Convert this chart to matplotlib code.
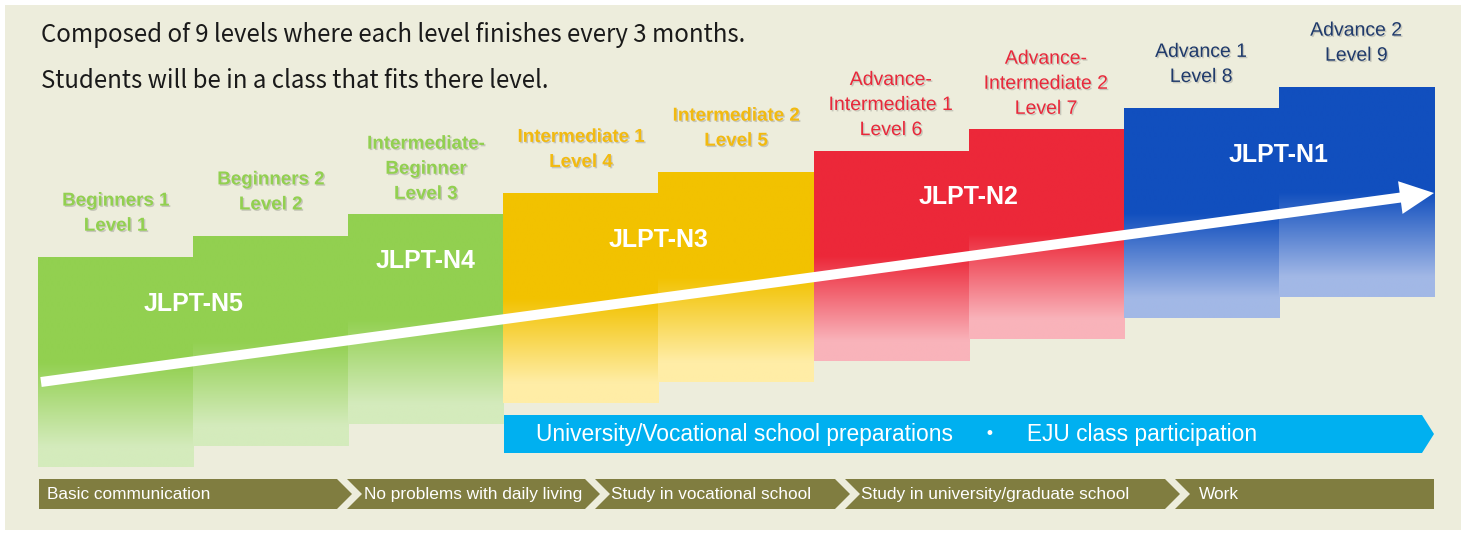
import numpy as np
import matplotlib
matplotlib.use("Agg")
import matplotlib.pyplot as plt
import matplotlib.patheffects as pe
from matplotlib.colors import to_rgba
from matplotlib.patches import Rectangle, Polygon, FancyArrow


# Data
levels = [1, 2, 3, 4, 5, 6, 7, 8, 9]
level_names = ["Beginners 1\nLevel 1", "Beginners 2\nLevel 2", "Intermediate-\nBeginner\nLevel 3",
               "Intermediate 1\nLevel 4", "Intermediate 2\nLevel 5",
               "Advance-\nIntermediate 1\nLevel 6", "Advance-\nIntermediate 2\nLevel 7",
               "Advance 1\nLevel 8", "Advance 2\nLevel 9"]
level_group = [0, 0, 1, 2, 2, 3, 3, 4, 4]
jlpt_names = ["JLPT-N5", "JLPT-N4", "JLPT-N3", "JLPT-N2", "JLPT-N1"]
goals = ["Basic communication", "No problems with daily living", "Study in vocational school",
         "Study in university/graduate school", "Work"]
prep_text = "University/Vocational school preparations    \u30fb    EJU class participation"
heading = ["Composed of 9 levels where each level finishes every 3 months.",
           "Students will be in a class that fits there level."]

# Colours per JLPT group
solid_colors = ["#92D050", "#92D050", "#F2C200", "#EC2839", "#114FBE"]
light_colors = ["#D4EBBC", "#D4EBBC", "#FFEDA6", "#F9B3BA", "#A2B8E6"]
label_colors = ["#92D050", "#92D050", "#F2BA10", "#E8283A", "#1F3A6B"]
label_bold = [True, True, True, False, False]

# Bar geometry (in level units)
bar_len = 9.88
solid_len = 4.95
fade_len = 8.95

W, H = 1466, 533
fig = plt.figure(figsize=(W / 100, H / 100), dpi=100, facecolor="white")

# Background axes (pixel coordinates)
ax_bg = fig.add_axes([0, 0, 1, 1], zorder=0)
ax_bg.set_xlim(0, W)
ax_bg.set_ylim(H, 0)
ax_bg.axis("off")
ax_bg.add_patch(Rectangle((5, 5), 1456, 525, facecolor="#EDEDDC", edgecolor="none"))

# Bar axes (column index / level units)
ax = fig.add_axes([0, 0, 1, 1], zorder=1)
ax.patch.set_visible(False)
ax.axis("off")

shadow = [pe.SimplePatchShadow(offset=(1, -1), alpha=0.25, shadow_rgbFace="#555555"), pe.Normal()]

for i, lvl in enumerate(levels):
    g = level_group[i]
    top = lvl
    bottom = lvl - bar_len
    # vertical gradient: solid -> light
    depth = np.linspace(0, bar_len, 200)
    t = np.clip((depth - solid_len) / (fade_len - solid_len), 0, 1)
    c1 = np.array(to_rgba(solid_colors[g]))
    c2 = np.array(to_rgba(light_colors[g]))
    grad = (1 - t)[:, None] * c1 + t[:, None] * c2
    ax.imshow(grad[:, None, :], extent=(i, i + 1.003, bottom, top), origin="upper",
              aspect="auto", interpolation="bilinear", zorder=1)

    # level label above the bar
    n_lines = level_names[i].count("\n") + 1
    off = 0.55 if n_lines == 3 else 1.05
    ax.text(i + 0.5, top + off, level_names[i], ha="center", va="bottom",
            color=label_colors[g], fontsize=13.5 if label_bold[g] else 14,
            fontweight="bold" if label_bold[g] else "normal",
            family="Liberation Sans", linespacing=1.62, path_effects=shadow, zorder=3)

# JLPT labels
for g, name in enumerate(jlpt_names):
    cols = [i for i in range(len(levels)) if level_group[i] == g]
    xc = (cols[0] + cols[-1] + 1) / 2
    yc = levels[cols[0]] - 2.2
    ax.text(xc, yc, name, ha="center", va="center", color="white", fontsize=18,
            fontweight="bold", family="Liberation Sans", zorder=3)

ax.set_xlim(-38 / 155.11, (W - 38) / 155.11)
ax.set_ylim(1 + (257 - H) / 21.25, 1 + 257 / 21.25)

# Overlay axes (pixel coordinates)
ax_top = fig.add_axes([0, 0, 1, 1], zorder=2)
ax_top.patch.set_visible(False)
ax_top.set_xlim(0, W)
ax_top.set_ylim(H, 0)
ax_top.axis("off")

# Heading
ax_top.text(41, 35, heading[0], ha="left", va="center", fontsize=17.3,
            family="Noto Sans CJK JP", color="#1A1A1A")
ax_top.text(41, 81, heading[1], ha="left", va="center", fontsize=17.3,
            family="Noto Sans CJK JP", color="#1A1A1A")

# Progress arrow
ax_top.add_patch(FancyArrow(41, 382, 1393, -189, width=10, head_width=33, head_length=34,
                            length_includes_head=True, facecolor="white", edgecolor="none"))

# Preparation band
ax_top.add_patch(Polygon([(504, 415), (1422, 415), (1434, 434), (1422, 453), (504, 453)],
                         closed=True, facecolor="#00B0F0", edgecolor="none"))
ax_top.text(536, 435, prep_text, ha="left", va="center", color="white", fontsize=16.4,
            family=["Liberation Sans", "Noto Sans CJK JP"])

# Goal band (chevrons)
breaks = [345, 593, 843, 1173]
y0, y1 = 479, 509
ym = (y0 + y1) / 2
lefts = [39] + [b + 2 for b in breaks]
rights = [b - 8 for b in breaks] + [1434]
text_x = [47, 364, 611, 861, 1199]
for k, goal in enumerate(goals):
    pts = []
    L, R = lefts[k], rights[k]
    if k < len(goals) - 1:
        pts += [(R, y0), (R + 15, ym), (R, y1)]
    else:
        pts += [(R, y0), (R, y1)]
    if k == 0:
        pts += [(L, y1), (L, y0)]
    else:
        pts += [(L, y1), (L + 15, ym), (L, y0)]
    ax_top.add_patch(Polygon(pts, closed=True, facecolor="#807D40", edgecolor="none"))
    ax_top.text(text_x[k], ym + 0.5, goal, ha="left", va="center", color="white",
                fontsize=12.4, family="Liberation Sans")

fig.savefig("out.png", dpi=100, facecolor="white")
